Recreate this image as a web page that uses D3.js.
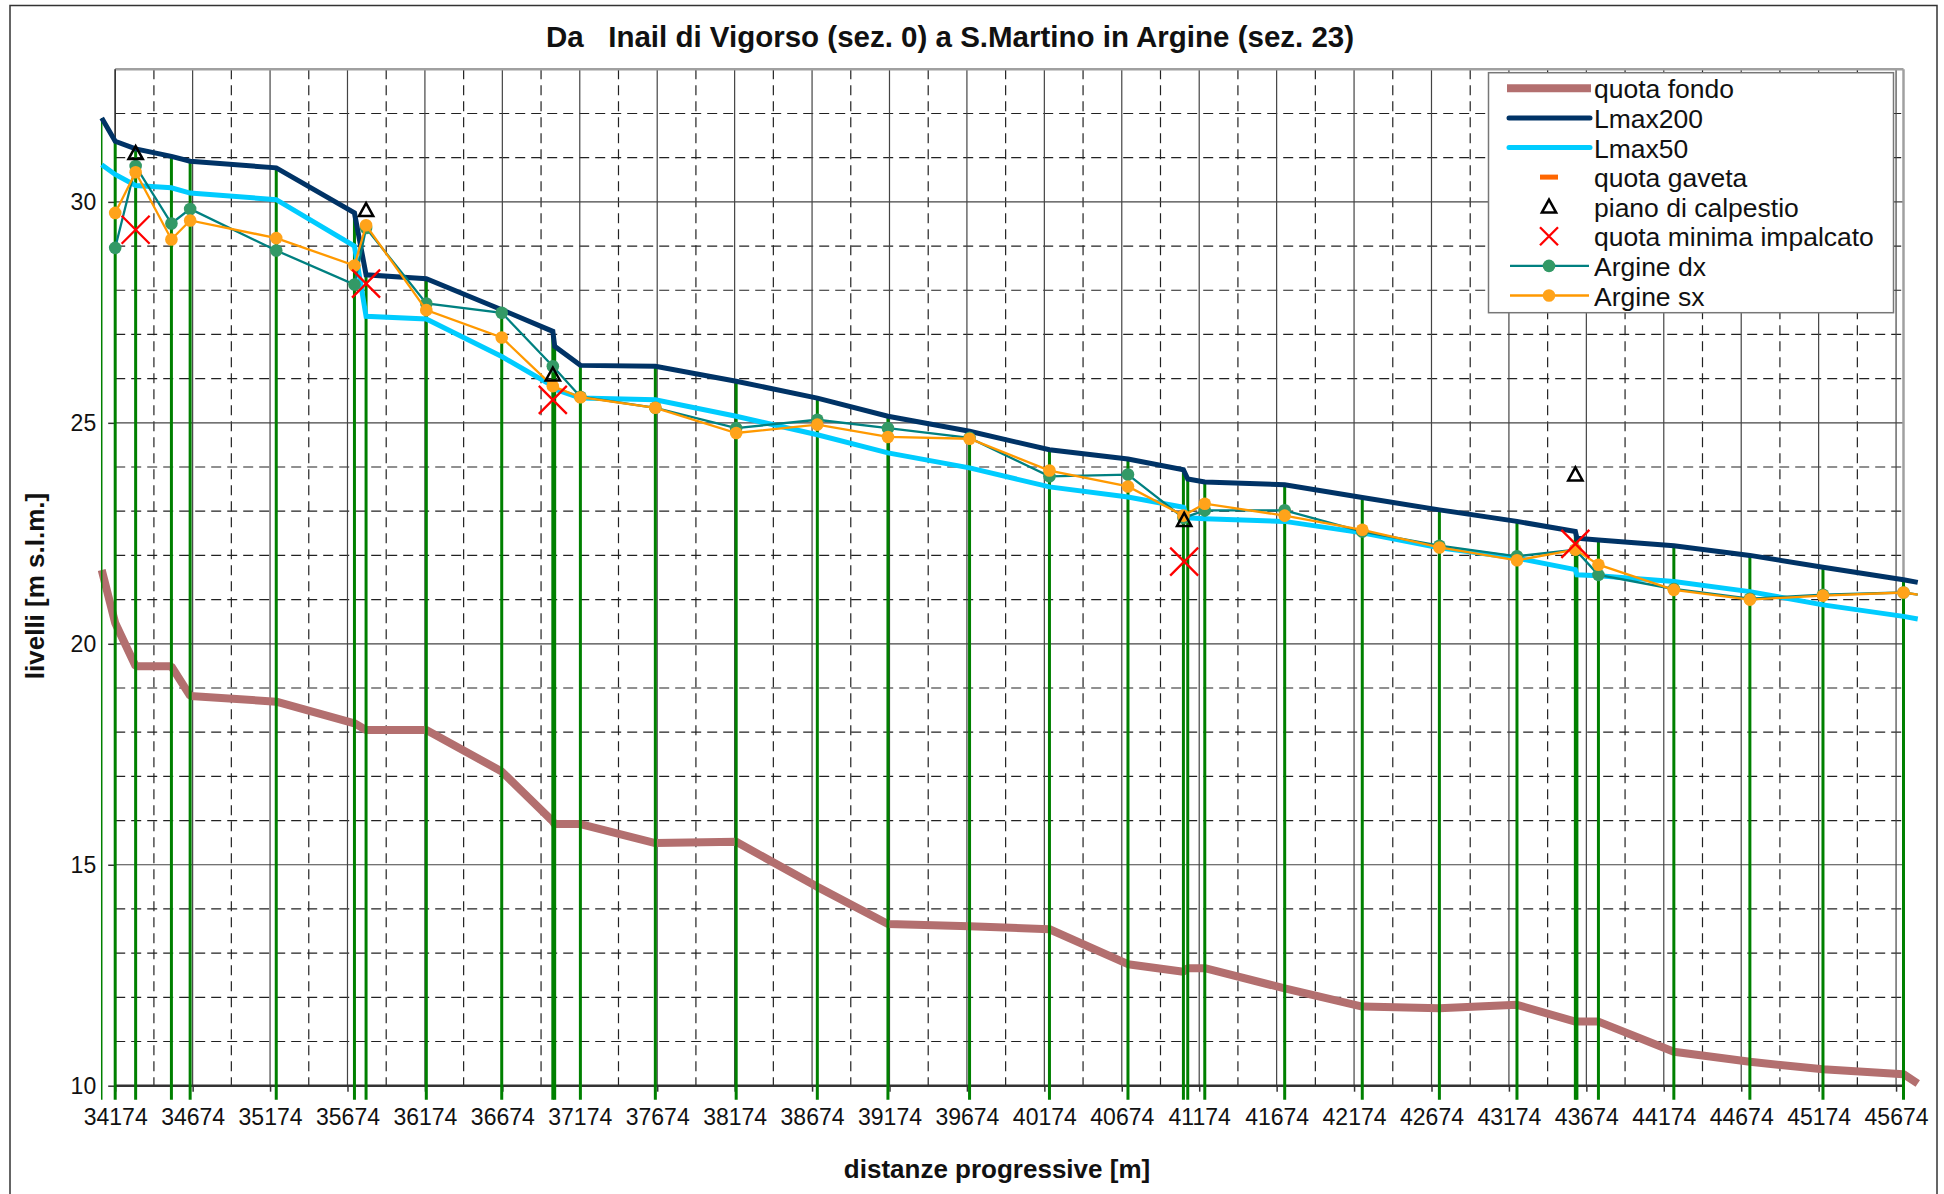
<!DOCTYPE html>
<html>
<meta charset="utf-8">
<script src="https://cdn.jsdelivr.net/npm/d3@7"></script>
<style>
body{ margin:0; background:#fff; }
svg{ font-family:"Liberation Sans", Arial, sans-serif; }
.gridMajor{ stroke:#444; stroke-width:1.2; }
.gridMinor{ stroke:#222; stroke-width:1.2; stroke-dasharray:10,6; }
</style>
<body>
<div id="chart"></div>
<script>
// sezioni (distanze progressive [m]) e quote [m s.l.m.]
var sezX       = [34087, 34174, 34306, 34537, 34658, 35214, 35719, 35794, 36183, 36670, 37000, 37012, 37178, 37662, 38184, 38708, 39164, 39691, 40207, 40714, 41072, 41100, 41210, 41726, 42227, 42725, 43226, 43603, 43613, 43752, 44239, 44730, 45202, 45722, 45814];
var quotaFondo = [21.67, 20.47, 19.49, 19.49, 18.82, 18.69, 18.20, 18.05, 18.05, 17.11, 15.98, 15.92, 15.92, 15.49, 15.52, 14.50, 13.66, 13.61, 13.54, 12.75, 12.58, 12.66, 12.66, 12.20, 11.79, 11.75, 11.83, 11.45, 11.45, 11.45, 10.77, 10.54, 10.37, 10.26, 10.05];
var lmax200    = [31.90, 31.37, 31.20, 31.03, 30.92, 30.77, 29.75, 28.35, 28.26, 27.56, 27.07, 26.73, 26.30, 26.28, 25.94, 25.56, 25.15, 24.81, 24.39, 24.18, 23.94, 23.73, 23.66, 23.60, 23.31, 23.03, 22.77, 22.54, 22.39, 22.35, 22.22, 22.00, 21.73, 21.45, 21.39];
var lmax50     = [30.84, 30.62, 30.37, 30.32, 30.20, 30.05, 29.00, 27.41, 27.35, 26.50, 25.83, 25.76, 25.56, 25.52, 25.15, 24.73, 24.32, 23.98, 23.55, 23.32, 23.09, 22.85, 22.83, 22.77, 22.51, 22.17, 21.94, 21.68, 21.56, 21.54, 21.41, 21.18, 20.88, 20.62, 20.56];
var argineDx   = [null, 28.96, 30.81, 29.51, 29.84, 28.90, 28.13, 29.41, 27.70, 27.49, 26.28, null, 25.59, 25.34, 24.88, 25.07, 24.88, 24.66, 23.79, 23.83, 22.85, null, 23.02, 23.02, 22.54, 22.22, 21.98, 22.13, null, 21.56, 21.24, 21.02, 21.11, 21.16, 21.11];
var argineSx   = [null, 29.75, 30.67, 29.15, 29.58, 29.18, 28.56, 29.47, 27.55, 26.93, 25.83, null, 25.58, 25.34, 24.77, 24.96, 24.68, 24.64, 23.92, 23.56, 22.90, null, 23.17, 22.90, 22.58, 22.18, 21.89, 22.13, null, 21.79, 21.22, 21.00, 21.09, 21.16, 21.11];

// ponti
var ponteX         = [34306, 35794, 37000, 41077, 43603];
var pianoCalpestio = [31.10, 29.81, 26.09, 22.80, 23.83];
var quotaImpalcato = [29.37, 28.15, 25.52, 21.86, 22.26];

// assi
var xTicks = [34174, 34674, 35174, 35674, 36174, 36674, 37174, 37674, 38174, 38674, 39174, 39674, 40174, 40674, 41174, 41674, 42174, 42674, 43174, 43674, 44174, 44674, 45174, 45674];
var yTicks = [10, 15, 20, 25, 30];
var yMinorTicks = [11, 12, 13, 14, 16, 17, 18, 19, 21, 22, 23, 24, 26, 27, 28, 29, 31, 32];

var legendLabels = ["quota fondo", "Lmax200", "Lmax50", "quota gaveta", "piano di calpestio", "quota minima impalcato", "Argine dx", "Argine sx"];

var colFondo = "#b36f6f", col200 = "#003366", col50 = "#00ccff",
    colDxLine = "#008080", colDxPt = "#339966",
    colSxLine = "#ff9900", colSxPt = "#ffa31a",
    colSez = "#008000", colGaveta = "#ff6600";

var width = 1944, height = 1194;
var xMax = 45722;

var svg = d3.select("#chart").append("svg").attr("width", width).attr("height", height);

svg.append("rect")
  .attr("x", 10).attr("y", 5.5).attr("width", 1927).attr("height", 1210)
  .attr("fill", "white").attr("stroke", "#333").attr("stroke-width", 1.5);

var x = d3.scaleLinear().domain([34174, xMax]).range([115.2, 1903.5]);
var y = d3.scaleLinear().domain([10, 33]).range([1085.7, 69.3]);

var rows = sezX.map(function(s, i){
  return {x: s, fondo: quotaFondo[i], l200: lmax200[i], l50: lmax50[i], dx: argineDx[i], sx: argineSx[i]};
});
var ponti = ponteX.map(function(p, i){
  return {x: p, piano: pianoCalpestio[i], impalcato: quotaImpalcato[i]};
});

// griglia
var grid = svg.append("g");
grid.selectAll(".vmin").data(xTicks.map(function(d){ return d + 250; }).filter(function(d){ return d < xMax; }))
  .enter().append("line").attr("class", "gridMinor")
  .attr("x1", function(d){ return x(d); }).attr("x2", function(d){ return x(d); })
  .attr("y1", y(33)).attr("y2", y(10));
grid.selectAll(".hmin").data(yMinorTicks)
  .enter().append("line").attr("class", "gridMinor")
  .attr("x1", x.range()[0]).attr("x2", x.range()[1])
  .attr("y1", function(d){ return y(d); }).attr("y2", function(d){ return y(d); });
grid.selectAll(".vmaj").data(xTicks)
  .enter().append("line").attr("class", "gridMajor")
  .attr("x1", function(d){ return x(d); }).attr("x2", function(d){ return x(d); })
  .attr("y1", y(33)).attr("y2", y(10));
grid.selectAll(".hmaj").data(yTicks)
  .enter().append("line").attr("class", "gridMajor")
  .attr("x1", x.range()[0]).attr("x2", x.range()[1])
  .attr("y1", function(d){ return y(d); }).attr("y2", function(d){ return y(d); });

// cornice del grafico
svg.append("line").attr("x1", x.range()[0]).attr("x2", x.range()[1]).attr("y1", y(33)).attr("y2", y(33))
  .attr("stroke", "#a0a0a0").attr("stroke-width", 2.5);
svg.append("line").attr("x1", x.range()[1]).attr("x2", x.range()[1]).attr("y1", y(33)).attr("y2", y(10))
  .attr("stroke", "#a0a0a0").attr("stroke-width", 2.5);

// assi
var xAxis = d3.axisBottom(x).tickValues(xTicks).tickSize(6).tickPadding(17).tickFormat(d3.format("d"));
var gx = svg.append("g").attr("transform", "translate(0," + y(10) + ")").call(xAxis);
gx.select(".domain").remove();
gx.selectAll("line").attr("stroke", "#333").attr("stroke-width", 1.5);
gx.selectAll("text").attr("font-size", 23).attr("fill", "#111").attr("font-family", "Liberation Sans, Arial, sans-serif");

var yAxis = d3.axisLeft(y).tickValues(yTicks).tickSize(7).tickPadding(12);
var gy = svg.append("g").attr("transform", "translate(" + x.range()[0] + ",0)").call(yAxis);
gy.select(".domain").remove();
gy.selectAll("line").attr("stroke", "#333").attr("stroke-width", 1.5);
gy.selectAll("text").attr("font-size", 23).attr("fill", "#111").attr("font-family", "Liberation Sans, Arial, sans-serif");

svg.append("line").attr("x1", x.range()[0]).attr("x2", x.range()[1]).attr("y1", y(10)).attr("y2", y(10))
  .attr("stroke", "#333").attr("stroke-width", 2.5);
svg.append("line").attr("x1", x.range()[0]).attr("x2", x.range()[0]).attr("y1", y(33)).attr("y2", y(10))
  .attr("stroke", "#333").attr("stroke-width", 1.5);

function lineOf(key){
  return d3.line().x(function(d){ return x(d.x); }).y(function(d){ return y(d[key]); });
}
function valid(key){
  return rows.filter(function(d){ return d[key] != null; });
}

// quota fondo
svg.append("path").datum(rows).attr("d", lineOf("fondo"))
  .attr("fill", "none").attr("stroke", colFondo).attr("stroke-width", 8).attr("stroke-linejoin", "bevel");

// sezioni
svg.selectAll(".sez").data(rows.filter(function(d){ return d.x <= xMax; }))
  .enter().append("line").attr("class", "sez")
  .attr("x1", function(d){ return x(d.x); }).attr("x2", function(d){ return x(d.x); })
  .attr("y1", function(d){ return y(d.l200); }).attr("y2", y(10) + 14)
  .attr("stroke", colSez).attr("stroke-width", function(d, i){ return i === 0 ? 1.5 : 3; });

// livelli
svg.append("path").datum(rows).attr("d", lineOf("l200"))
  .attr("fill", "none").attr("stroke", col200).attr("stroke-width", 5);
svg.append("path").datum(rows).attr("d", lineOf("l50"))
  .attr("fill", "none").attr("stroke", col50).attr("stroke-width", 5);

// argini
svg.append("path").datum(valid("dx")).attr("d", lineOf("dx"))
  .attr("fill", "none").attr("stroke", colDxLine).attr("stroke-width", 2.3);
svg.selectAll(".ptDx").data(valid("dx").filter(function(d){ return d.x <= xMax; }))
  .enter().append("circle").attr("class", "ptDx")
  .attr("cx", function(d){ return x(d.x); }).attr("cy", function(d){ return y(d.dx); })
  .attr("r", 6.3).attr("fill", colDxPt);

svg.append("path").datum(valid("sx")).attr("d", lineOf("sx"))
  .attr("fill", "none").attr("stroke", colSxLine).attr("stroke-width", 2.3);
svg.selectAll(".ptSx").data(valid("sx").filter(function(d){ return d.x <= xMax; }))
  .enter().append("circle").attr("class", "ptSx")
  .attr("cx", function(d){ return x(d.x); }).attr("cy", function(d){ return y(d.sx); })
  .attr("r", 6.3).attr("fill", colSxPt);

// ponti: piano di calpestio e quota minima impalcato
var triPath = function(s){ return "M0," + (-s * 0.55) + "L" + (s * 0.55) + "," + (s * 0.45) + "L" + (-s * 0.55) + "," + (s * 0.45) + "Z"; };
var crossPath = function(s){ return "M" + (-s) + "," + (-s) + "L" + s + "," + s + "M" + (-s) + "," + s + "L" + s + "," + (-s); };

svg.selectAll(".piano").data(ponti).enter().append("path").attr("class", "piano")
  .attr("transform", function(d){ return "translate(" + x(d.x) + "," + y(d.piano) + ")"; })
  .attr("d", triPath(13)).attr("fill", "none").attr("stroke", "black").attr("stroke-width", 2.5);
svg.selectAll(".impalcato").data(ponti).enter().append("path").attr("class", "impalcato")
  .attr("transform", function(d){ return "translate(" + x(d.x) + "," + y(d.impalcato) + ")"; })
  .attr("d", crossPath(14)).attr("fill", "none").attr("stroke", "red").attr("stroke-width", 2.3);

// titoli
svg.append("text").attr("x", 950).attr("y", 46.5).attr("text-anchor", "middle")
  .style("white-space", "pre").attr("font-size", 29.5).attr("font-weight", "bold").attr("fill", "#111")
  .text("Da   Inail di Vigorso (sez. 0) a S.Martino in Argine (sez. 23)");
svg.append("text").attr("x", 997).attr("y", 1178).attr("text-anchor", "middle")
  .attr("font-size", 26).attr("font-weight", "bold").attr("fill", "#111")
  .text("distanze progressive [m]");
svg.append("text").attr("transform", "translate(44,586) rotate(-90)").attr("text-anchor", "middle")
  .attr("font-size", 26).attr("font-weight", "bold").attr("fill", "#111")
  .text("livelli [m s.l.m.]");

// legenda
var leg = svg.append("g");
leg.append("rect").attr("x", 1488.5).attr("y", 72.7).attr("width", 405).attr("height", 240)
  .attr("fill", "white").attr("stroke", "#777").attr("stroke-width", 1.5);

var legRows = leg.selectAll(".legRow").data(legendLabels).enter().append("g")
  .attr("transform", function(d, i){ return "translate(0," + (88.3 + i * 29.6) + ")"; });
legRows.append("text").attr("x", 1594).attr("y", 10).attr("font-size", 26.5).attr("fill", "#111")
  .text(function(d){ return d; });

var sym = legRows.nodes().map(function(n){ return d3.select(n); });
sym[0].append("line").attr("x1", 1507).attr("x2", 1591).attr("stroke", colFondo).attr("stroke-width", 8);
sym[1].append("line").attr("x1", 1509).attr("x2", 1590).attr("stroke", col200).attr("stroke-width", 5).attr("stroke-linecap", "round");
sym[2].append("line").attr("x1", 1509).attr("x2", 1590).attr("stroke", col50).attr("stroke-width", 5).attr("stroke-linecap", "round");
sym[3].append("line").attr("x1", 1540).attr("x2", 1558).attr("stroke", colGaveta).attr("stroke-width", 5);
sym[4].append("path").attr("transform", "translate(1549,0)").attr("d", triPath(13))
  .attr("fill", "none").attr("stroke", "black").attr("stroke-width", 2.5);
sym[5].append("path").attr("transform", "translate(1549,0)").attr("d", crossPath(9))
  .attr("fill", "none").attr("stroke", "red").attr("stroke-width", 2.3);
sym[6].append("line").attr("x1", 1510).attr("x2", 1589).attr("stroke", colDxLine).attr("stroke-width", 2.3);
sym[6].append("circle").attr("cx", 1549).attr("r", 6.3).attr("fill", colDxPt);
sym[7].append("line").attr("x1", 1510).attr("x2", 1589).attr("stroke", colSxLine).attr("stroke-width", 2.3);
sym[7].append("circle").attr("cx", 1549).attr("r", 6.3).attr("fill", colSxPt);
</script>
</body>
</html>
